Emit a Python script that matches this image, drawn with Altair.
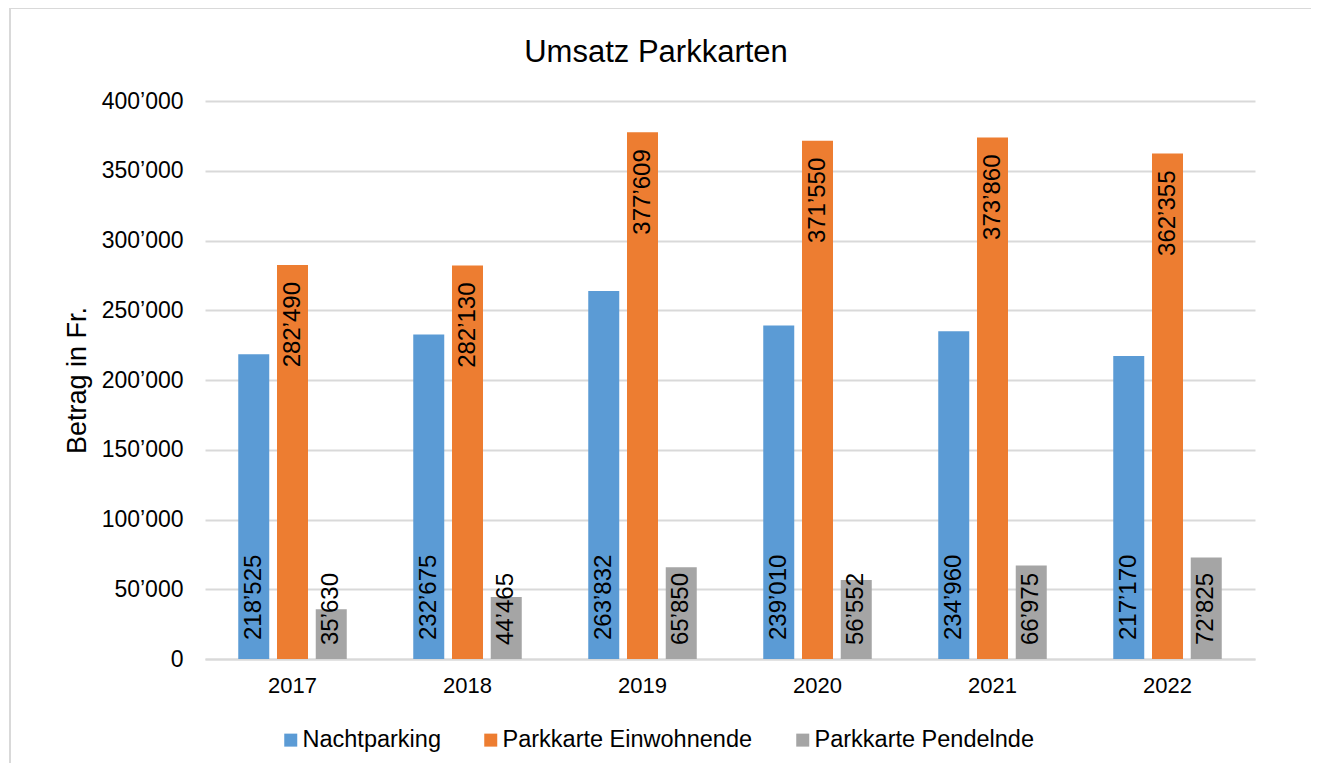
import altair as alt
import pandas as pd

years = ["2017", "2018", "2019", "2020", "2021", "2022"]
series = ["Nachtparking", "Parkkarte Einwohnende", "Parkkarte Pendelnde"]
nachtparking = [218525, 232675, 263832, 239010, 234960, 217170]
einwohnende = [282490, 282130, 377609, 371550, 373860, 362355]
pendelnde = [35630, 44465, 65850, 56552, 66975, 72825]
colors = ["#5B9BD5", "#ED7D31", "#A5A5A5"]
y_ticks = [0, 50000, 100000, 150000, 200000, 250000, 300000, 350000, 400000]

rows = []
for s, vals in zip(series, [nachtparking, einwohnende, pendelnde]):
    for y, v in zip(years, vals):
        rows.append({"Jahr": y, "Serie": s, "Wert": v,
                     "Label": f"{v:,}".replace(",", "\u2019")})
df = pd.DataFrame(rows)

FONT = "Liberation Sans"
GRID = "#D9D9D9"

x_enc = alt.X("Jahr:N", sort=years,
              scale=alt.Scale(paddingInner=0.38, paddingOuter=0.19),
              axis=alt.Axis(title=None, labelAngle=0, ticks=False, domain=True,
                            domainColor=GRID, domainWidth=2, labelFontSize=22,
                            labelPadding=16, labelColor="#000000", grid=False))
xo_enc = alt.XOffset("Serie:N", sort=series,
                     scale=alt.Scale(paddingInner=0.2, paddingOuter=0))
y_enc = alt.Y("Wert:Q", scale=alt.Scale(domain=[0, 400000], nice=False),
              axis=alt.Axis(title="Betrag in Fr.", values=y_ticks,
                            labelExpr="replace(format(datum.value, ','), ',', '\u2019')",
                            domain=False, ticks=False, gridColor=GRID, gridWidth=2,
                            labelFontSize=23, labelPadding=22, labelColor="#000000",
                            titleFontSize=27, titleFontWeight="normal",
                            titleColor="#000000", titlePadding=10))

base = alt.Chart(df)

bars = base.mark_bar().encode(
    x=x_enc, xOffset=xo_enc, y=y_enc,
    color=alt.Color("Serie:N", sort=series,
                    scale=alt.Scale(domain=series, range=colors),
                    legend=alt.Legend(title=None, orient="none", direction="horizontal",
                                      legendX=74, legendY=627, symbolType="square",
                                      symbolSize=169, symbolStrokeWidth=0,
                                      labelFontSize=23.5, labelOffset=0,
                                      columnPadding=38, labelColor="#000000",
                                      labelLimit=400))
)

def base_label(name, shift):
    return base.transform_filter(
        alt.datum.Serie == name
    ).mark_text(angle=270, align="left", baseline="middle", dx=shift,
                fontSize=24, color="#000000").encode(
        x=alt.X("Jahr:N", sort=years), xOffset=alt.XOffset("Serie:N", sort=series),
        y=alt.datum(0), text="Label:N")

blue_labels = base_label("Nachtparking", 19)
gray_labels = base_label("Parkkarte Pendelnde", 14)

top_labels = base.transform_filter(
    alt.datum.Serie == "Parkkarte Einwohnende"
).mark_text(angle=270, align="right", baseline="middle", dx=-17,
            fontSize=24, color="#000000").encode(
    x=alt.X("Jahr:N", sort=years), xOffset=alt.XOffset("Serie:N", sort=series),
    y="Wert:Q", text="Label:N")

frame = alt.Chart(pd.DataFrame({"f": [0]})).mark_rect(
    fillOpacity=0, stroke=GRID, strokeWidth=2).encode(
    x=alt.value(-195), x2=alt.value(1108), y=alt.value(-93), y2=alt.value(700))

title_mark = alt.Chart(pd.DataFrame({"t": ["Umsatz Parkkarten"]})).mark_text(
    fontSize=31, color="#000000", align="center", baseline="alphabetic").encode(
    x=alt.value(451), y=alt.value(-39), text="t:N")

chart = alt.layer(bars, blue_labels, gray_labels, top_labels, frame, title_mark).properties(
    width=1050, height=558,
    autosize="none",
    padding={"left": 197, "top": 93, "right": 56, "bottom": 104},
).configure(font=FONT).configure_view(stroke=None)

chart.save("out.html", embed_options={"renderer": "svg", "actions": False})
